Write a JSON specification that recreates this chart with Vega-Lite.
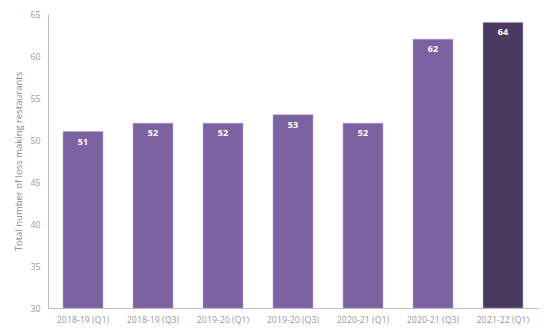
{
  "$schema": "https://vega.github.io/schema/vega-lite/v6.json",
  "width": 490,
  "height": 294,
  "autosize": {"type": "none"},
  "padding": {"left": 48, "top": 14, "right": 13, "bottom": 26},
  "background": "white",
  "data": {"values": [
    {"period": "2018-19 (Q1)", "value": 51, "latest": "no"},
    {"period": "2018-19 (Q3)", "value": 52, "latest": "no"},
    {"period": "2019-20 (Q1)", "value": 52, "latest": "no"},
    {"period": "2019-20 (Q3)", "value": 53, "latest": "no"},
    {"period": "2020-21 (Q1)", "value": 52, "latest": "no"},
    {"period": "2020-21 (Q3)", "value": 62, "latest": "no"},
    {"period": "2021-22 (Q1)", "value": 64, "latest": "yes"}
  ]},
  "config": {"view": {"stroke": null}, "font": "Open Sans"},
  "encoding": {
    "x": {"field": "period", "type": "nominal", "sort": null,
      "scale": {"paddingInner": 0.43, "paddingOuter": 0.215},
      "axis": {"title": null, "labelAngle": 0, "labelFontSize": 8.8, "labelColor": "#9a9a9a", "ticks": false, "domainColor": "#bfbfbf", "labelPadding": 7}},
    "y": {"field": "value", "type": "quantitative",
      "scale": {"domain": [30, 65], "zero": false, "clamp": true},
      "axis": {"title": "Total number of loss making restaurants", "titleFontSize": 9.5, "titleFontWeight": "normal", "titleColor": "#8a8a8a", "titlePadding": 6,
        "values": [30, 35, 40, 45, 50, 55, 60, 65], "grid": false, "ticks": false, "labelFontSize": 8.8, "labelColor": "#9a9a9a", "domainColor": "#bfbfbf", "labelPadding": 8}}
  },
  "layer": [
    {"mark": {"type": "bar", "stroke": "#a898c4", "strokeWidth": 0.5},
      "encoding": {"color": {"field": "latest", "type": "nominal", "scale": {"domain": ["no", "yes"], "range": ["#7c62a0", "#4a3a62"]}, "legend": null}}},
    {"mark": {"type": "text", "color": "white", "fontWeight": "bold", "fontSize": 9, "baseline": "top", "dy": 6},
      "encoding": {"text": {"field": "value", "type": "quantitative"}}}
  ]
}
